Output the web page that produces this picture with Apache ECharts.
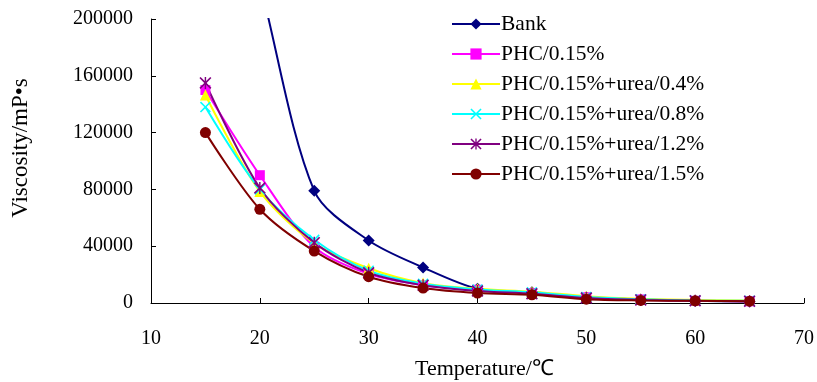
<!DOCTYPE html>
<html>
<head>
<meta charset="utf-8">
<script src="https://cdn.jsdelivr.net/npm/echarts@6/dist/echarts.min.js"></script>
<style>
html,body{margin:0;padding:0;background:#fff;}
#chart{width:817px;height:382px;}
</style>
</head>
<body>
<div id="chart"></div>
<script>
const temperatures = [15, 20, 25, 30, 35, 40, 45, 50, 55, 60, 65];
const bank = [360000, 225000, 79000, 44000, 25000, 10000, 7500, 4000, 2500, 1500, 1000];
const phc015 = [150000, 90000, 39500, 20500, 12500, 9300, 7000, 4000, 2500, 1500, 1200];
const urea04 = [146500, 78500, 42000, 24500, 14000, 10000, 8000, 4800, 3000, 2200, 1800];
const urea08 = [138000, 80000, 44500, 22700, 13500, 9500, 7500, 4300, 2700, 1800, 1500];
const urea12 = [155000, 81000, 42500, 21300, 12500, 8500, 6500, 3500, 2200, 1600, 1300];
const urea15 = [120000, 66000, 36600, 18500, 10500, 7000, 5800, 2700, 1800, 1500, 1300];
const seriesNames = ['Bank', 'PHC/0.15%', 'PHC/0.15%+urea/0.4%', 'PHC/0.15%+urea/0.8%', 'PHC/0.15%+urea/1.2%', 'PHC/0.15%+urea/1.5%'];
const xTicks = [10, 20, 30, 40, 50, 60, 70];
const yTicks = [0, 40000, 80000, 120000, 160000, 200000];

const FONT = '"Liberation Serif", "Times New Roman", serif';
const X_SYMBOL = 'path://M1,0 L5,4 L9,0 L10,1 L6,5 L10,9 L9,10 L5,6 L1,10 L0,9 L4,5 L0,1 Z';
const STAR_SYMBOL = 'path://M1,0 L5,4 L9,0 L10,1 L6,5 L10,9 L9,10 L5,6 L1,10 L0,9 L4,5 L0,1 Z M4.4,0 L5.6,0 L5.6,10 L4.4,10 Z';

function pairs(vals) { return temperatures.map((t, i) => [t, vals[i]]); }

const styles = [
  { data: bank, color: '#000080', symbol: 'diamond', size: 12 },
  { data: phc015, color: '#FF00FF', symbol: 'rect', size: 10 },
  { data: urea04, color: '#FFFF00', symbol: 'triangle', size: 11 },
  { data: urea08, color: '#00FFFF', symbol: X_SYMBOL, size: 11 },
  { data: urea12, color: '#800080', symbol: STAR_SYMBOL, size: 12 },
  { data: urea15, color: '#800000', symbol: 'circle', size: 11 }
];

const chart = echarts.init(document.getElementById('chart'));
chart.setOption({
  animation: false,
  backgroundColor: '#fff',
  textStyle: { fontFamily: FONT },
  grid: { left: 151, right: 13, top: 19, bottom: 79, containLabel: false, outerBoundsMode: 'none' },
  legend: {
    orient: 'vertical',
    left: 446,
    top: 8,
    itemWidth: 48,
    itemHeight: 14,
    itemGap: 8,
    textStyle: { fontFamily: FONT, fontSize: 21.5, color: '#000', padding: [0, 0, 0, -4] },
    data: seriesNames
  },
  xAxis: {
    type: 'value',
    min: xTicks[0],
    max: xTicks[xTicks.length - 1],
    interval: 10,
    name: 'Temperature/\u2103',
    nameLocation: 'middle',
    nameGap: 55,
    nameTextStyle: { fontFamily: FONT, fontSize: 22, color: '#000', padding: [0, 0, 0, 14] },
    axisLine: { show: true, lineStyle: { color: '#000', width: 1 } },
    axisTick: { show: true, inside: true, length: 5, lineStyle: { color: '#000' } },
    axisLabel: { fontFamily: FONT, fontSize: 20, color: '#000', margin: 26 },
    splitLine: { show: false }
  },
  yAxis: {
    type: 'value',
    min: yTicks[0],
    max: yTicks[yTicks.length - 1],
    interval: 40000,
    name: 'Viscosity/mP\u2022s',
    nameLocation: 'middle',
    nameGap: 119,
    nameTextStyle: { fontFamily: FONT, fontSize: 23, color: '#000', padding: [0, 0, 0, 26] },
    axisLine: { show: true, lineStyle: { color: '#000', width: 1 } },
    axisTick: { show: true, inside: true, length: 5, lineStyle: { color: '#000' } },
    axisLabel: { fontFamily: FONT, fontSize: 20, color: '#000', margin: 18, padding: [4, 0, 0, 0], formatter: v => String(v) },
    splitLine: { show: false }
  },
  series: styles.map((s, i) => ({
    name: seriesNames[i],
    type: 'line',
    data: pairs(s.data),
    smooth: 0.3,
    clip: true,
    symbol: s.symbol,
    symbolSize: s.size,
    showAllSymbol: true,
    lineStyle: { color: s.color, width: 2 },
    itemStyle: { color: s.color, borderWidth: 0 },
    emphasis: { disabled: true }
  }))
});
</script>
</body>
</html>
